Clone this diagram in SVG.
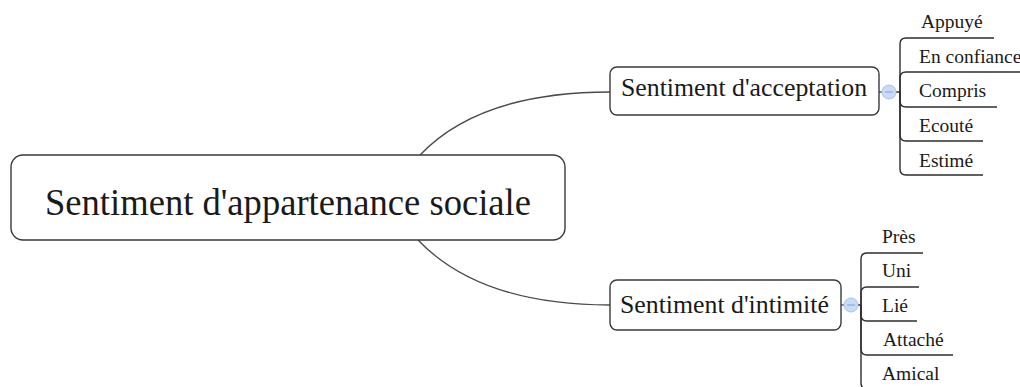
<svg xmlns="http://www.w3.org/2000/svg" width="1020" height="387" viewBox="0 0 1020 387">
<style>
  .box { fill: #ffffff; stroke: #3a3a3a; stroke-width: 1.4; }
  .t { font-family: "Liberation Serif", "Times New Roman", serif; fill: #1a1a1a; }
  .main { font-size: 37.5px; }
  .sub { font-size: 25.8px; }
  .leaf { font-size: 19.5px; }
  .conn { fill: none; stroke: #4a4a4a; stroke-width: 1.3; }
  .br { fill: none; stroke: #2e2e2e; stroke-width: 1.4; }
  .col { fill: #c9dbf6; stroke: #a9c3ec; stroke-width: 1; }
  .colm { stroke: #7f9fd0; stroke-width: 1; }
</style>
<rect width="1020" height="387" fill="#ffffff"/>
<g id="connectors">
  <path class="conn" d="M420,155 Q480,92 610,92"/>
  <path class="conn" d="M418,240 Q480,305 610,305"/>
  <path class="conn" d="M879,92 H882"/>
  <path class="conn" d="M841,305 H844"/>
  <path class="br" d="M896,92 H900 V44 Q900,38 906,38 H994"/>
  <path class="br" d="M900,92 V78 Q900,72 906,72 H1031"/>
  <path class="br" d="M900,92 V101 Q900,107 906,107 H997"/>
  <path class="br" d="M900,92 V135 Q900,141 906,141 H983"/>
  <path class="br" d="M900,92 V169 Q900,175 906,175 H983"/>
  <path class="br" d="M858,305 H861 V259 Q861,253 867,253 H923"/>
  <path class="br" d="M861,305 V293 Q861,287 867,287 H919"/>
  <path class="br" d="M861,305 V315 Q861,321 867,321 H917"/>
  <path class="br" d="M861,305 V349 Q861,355 867,355 H953"/>
  <path class="br" d="M861,305 V383 Q861,389 867,389 H948"/>
</g>
<g id="root">
  <rect class="box" x="11" y="155" width="554" height="85" rx="12"/>
  <text class="t main" x="288" y="215" text-anchor="middle" textLength="486" lengthAdjust="spacingAndGlyphs">Sentiment d'appartenance sociale</text>
</g>
<g id="acceptation">
  <rect class="box" x="610" y="67" width="269" height="48" rx="7"/>
  <text class="t sub" x="621" y="96">Sentiment d'acceptation</text>
  <circle class="col" cx="889" cy="92" r="7"/>
  <line class="colm" x1="885" y1="92" x2="893" y2="92"/>
</g>
<g id="intimite">
  <rect class="box" x="610" y="280" width="231" height="50" rx="7"/>
  <text class="t sub" x="620" y="313">Sentiment d'intimité</text>
  <circle class="col" cx="851" cy="305" r="7"/>
  <line class="colm" x1="847" y1="305" x2="855" y2="305"/>
</g>
<g id="appuye"><text class="t leaf" x="921" y="28">Appuyé</text></g>
<g id="confiance"><text class="t leaf" x="919" y="63">En confiance</text></g>
<g id="compris"><text class="t leaf" x="919" y="97">Compris</text></g>
<g id="ecoute"><text class="t leaf" x="919" y="132">Ecouté</text></g>
<g id="estime"><text class="t leaf" x="919" y="167">Estimé</text></g>
<g id="pres"><text class="t leaf" x="882" y="243">Près</text></g>
<g id="uni"><text class="t leaf" x="882" y="277">Uni</text></g>
<g id="lie"><text class="t leaf" x="882" y="312">Lié</text></g>
<g id="attache"><text class="t leaf" x="883" y="346">Attaché</text></g>
<g id="amical"><text class="t leaf" x="882" y="380">Amical</text></g>
</svg>
